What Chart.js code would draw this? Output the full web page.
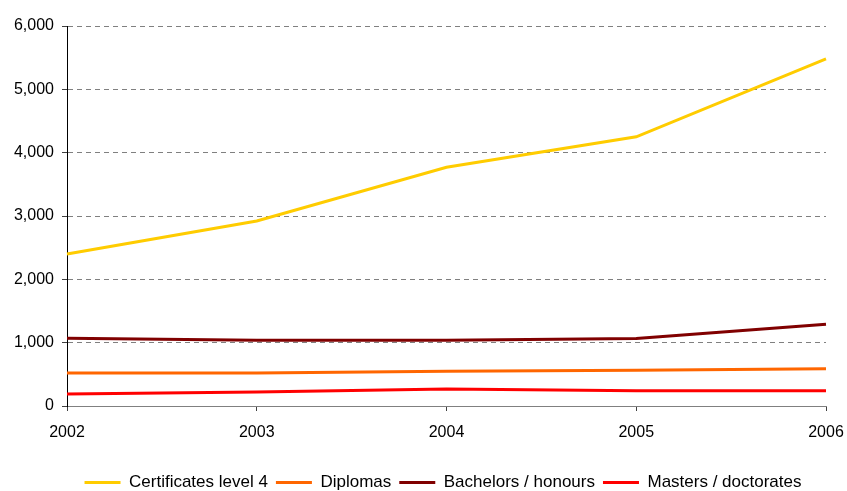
<!DOCTYPE html>
<html>
<head>
<meta charset="utf-8">
<script src="https://cdn.jsdelivr.net/npm/chart.js@4/dist/chart.umd.min.js"></script>
<style>
  html, body { margin: 0; padding: 0; background: #fff; }
  #wrap { width: 847px; height: 491px; }
</style>
</head>
<body>
<div id="wrap"><canvas id="chart" width="847" height="491"></canvas></div>
<script>
const years = ['2002', '2003', '2004', '2005', '2006'];
const certificates = [2400, 2920, 3770, 4250, 5480];
const diplomas = [520, 520, 550, 565, 590];
const bachelors = [1070, 1040, 1040, 1065, 1290];
const masters = [190, 220, 270, 240, 240];
const yTicks = [0, 1000, 2000, 3000, 4000, 5000, 6000];

const seriesNames = ['Certificates level 4', 'Diplomas', 'Bachelors / honours', 'Masters / doctorates'];
const seriesColors = ['#FFCC00', '#FF6600', '#800000', '#FF0000'];
const seriesData = [certificates, diplomas, bachelors, masters];

const fontFamily = '"Liberation Sans", Arial, sans-serif';

// the original legend sits a bit right of centre
const shiftLegend = {
    id: 'shiftLegend',
    afterLayout: function(chart) {
        if (chart.legend) chart.legend.left = 60;
    }
};

const ctx = document.getElementById('chart').getContext('2d');
new Chart(ctx, {
    type: 'line',
    data: {
        labels: years,
        datasets: seriesNames.map((name, i) => ({
            label: name,
            data: seriesData[i],
            borderColor: seriesColors[i],
            backgroundColor: seriesColors[i],
            borderWidth: 3,
            pointRadius: 0,
            tension: 0
        }))
    },
    plugins: [shiftLegend],
    options: {
        responsive: false,
        animation: false,
        layout: {
            padding: { left: 0, right: 21, top: 26, bottom: -10 }
        },
        plugins: {
            legend: {
                position: 'bottom',
                labels: {
                    font: { family: fontFamily, size: 17 },
                    color: '#000',
                    boxWidth: 36,
                    boxHeight: 3,
                    padding: 8,
                    generateLabels: function(chart) {
                        return chart.data.datasets.map((ds, i) => ({
                            text: ds.label,
                            fillStyle: ds.borderColor,
                            strokeStyle: ds.borderColor,
                            lineWidth: 0,
                            hidden: false,
                            datasetIndex: i
                        }));
                    }
                }
            },
            tooltip: { enabled: false }
        },
        scales: {
            x: {
                offset: false,
                grid: {
                    drawOnChartArea: false,
                    drawTicks: true,
                    tickLength: 5,
                    tickColor: '#404040'
                },
                border: { color: '#808080', width: 1 },
                ticks: {
                    color: '#000',
                    padding: 12,
                    maxRotation: 0,
                    font: { family: fontFamily, size: 16 }
                },
                afterFit: function(scale) {
                    scale.height = 60;
                    scale.paddingLeft = 0;
                    scale.paddingRight = 0;
                }
            },
            y: {
                min: 0,
                max: 6000,
                afterBuildTicks: function(scale) {
                    scale.ticks = yTicks.map(v => ({ value: v }));
                },
                grid: {
                    color: '#808080',
                    tickBorderDash: [],
                    tickLength: 5,
                    tickColor: '#404040'
                },
                border: { color: '#000', width: 1, dash: [5, 4] },
                ticks: {
                    color: '#000',
                    padding: 8,
                    font: { family: fontFamily, size: 16 },
                    callback: function(v) { return v.toLocaleString('en-US'); }
                },
                afterFit: function(scale) { scale.width = 67; }
            }
        }
    }
});
</script>
</body>
</html>
